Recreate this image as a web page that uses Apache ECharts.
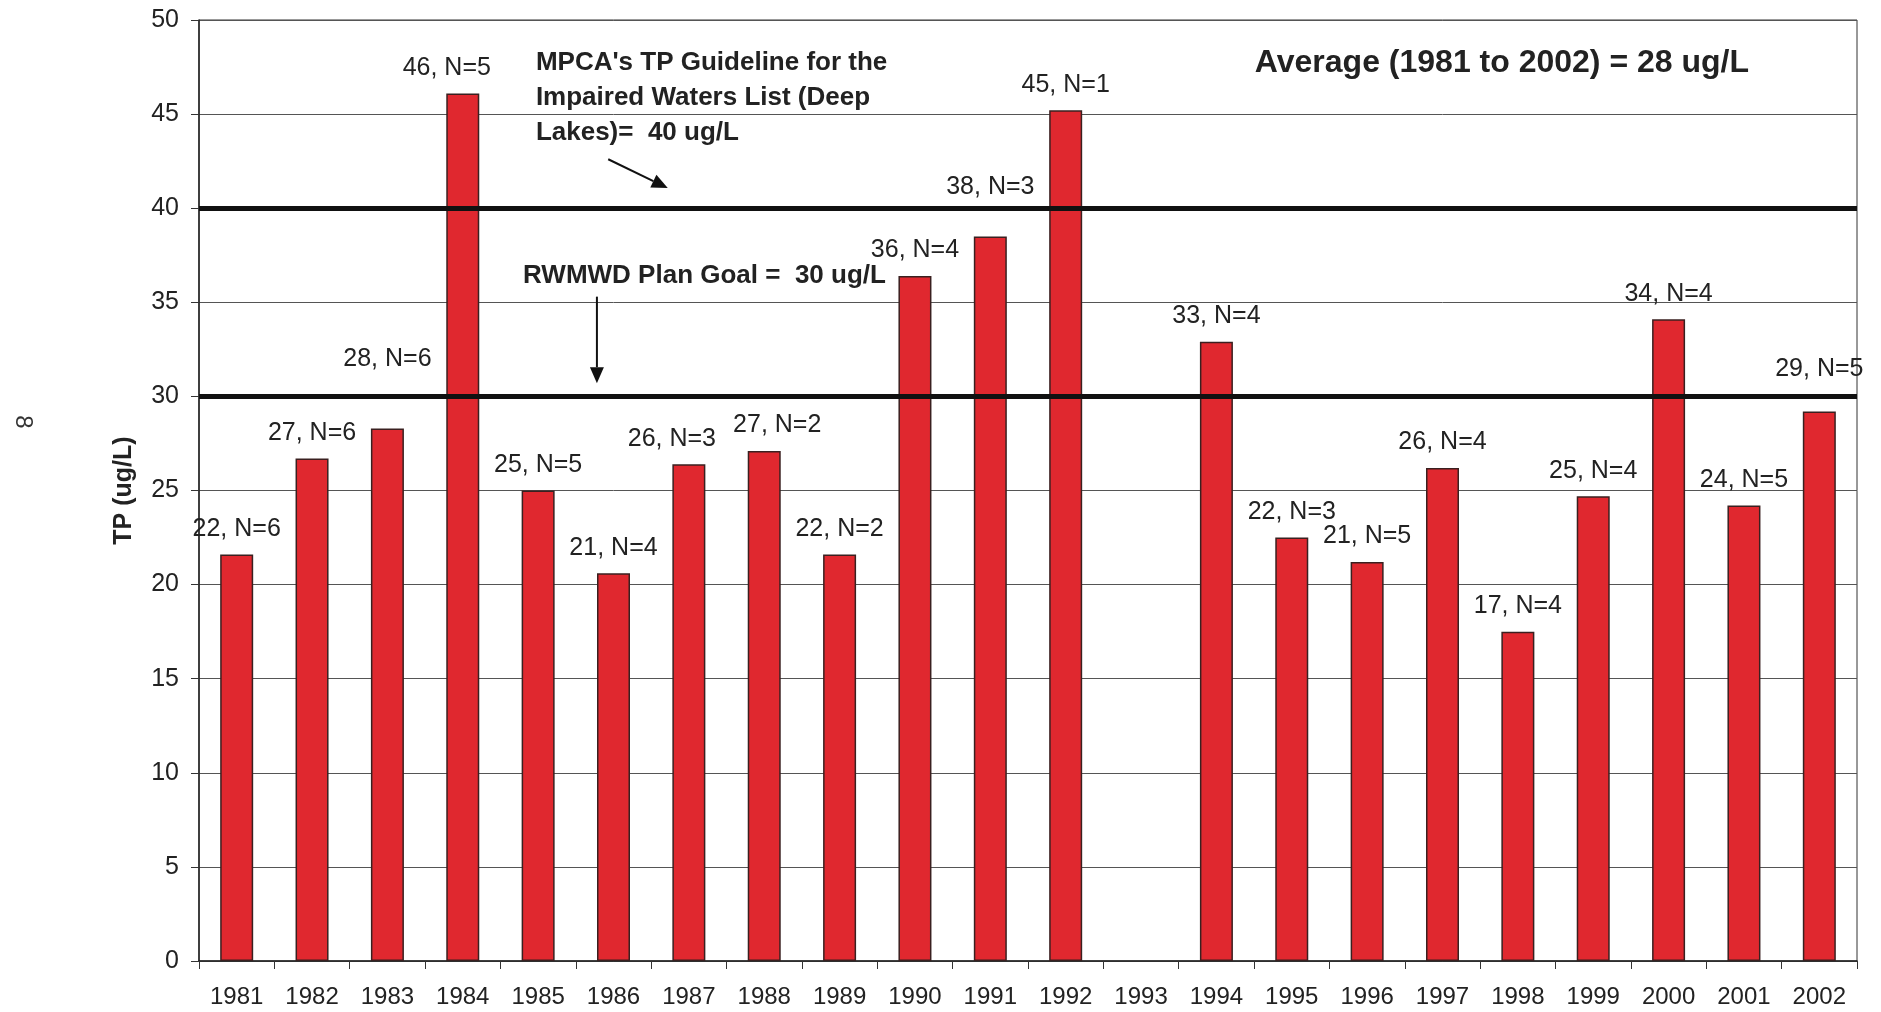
<!DOCTYPE html>
<html><head><meta charset="utf-8">
<script src="https://cdn.jsdelivr.net/npm/echarts@6/dist/echarts.min.js"></script>
<style>html,body{margin:0;padding:0;background:#fff}#c{width:1881px;height:1012px}</style>
</head><body><div id="c"></div>
<script>
// ---- data ----
const years = ['1981','1982','1983','1984','1985','1986','1987','1988','1989','1990','1991','1992','1993','1994','1995','1996','1997','1998','1999','2000','2001','2002'];
const tpValues = [21.6,26.7,28.3,46.1,25.0,20.6,26.4,27.1,21.6,36.4,38.5,45.2,null,32.9,22.5,21.2,26.2,17.5,24.7,34.1,24.2,29.2];
const tpLabelValues = [22,27,28,46,25,21,26,27,22,36,38,45,null,33,22,21,26,17,25,34,24,29];
const sampleCounts = [6,6,6,5,5,4,3,2,2,4,3,1,null,4,3,5,4,4,4,4,5,5];
const mpcaGuideline = 40;
const planGoal = 30;
const averageTP = 28;
const yMin = 0, yMax = 50, yStep = 5;

// label nudges (style only, px)
const labelNudge = {'1983':[0,-44],'1984':[-16,0],'1987':[-17,0],'1988':[13,0],'1991':[0,-24],'2002':[0,-17]};

const FONT = "'Liberation Sans',Arial,Helvetica,sans-serif";
const chart = echarts.init(document.getElementById('c'), null, {renderer:'canvas'});

const barData = tpValues.map((v,i)=>{
  if (v === null) return '-';
  const item = {value:v};
  const n = labelNudge[years[i]];
  if (n) item.label = {offset:n};
  return item;
});

chart.setOption({
  animation:false,
  backgroundColor:'#fff',
  grid:{left:199,right:24,top:20,bottom:51,show:true,borderColor:'#333',borderWidth:1,backgroundColor:'transparent'},
  xAxis:{
    type:'category', data:years, boundaryGap:true,
    axisLine:{lineStyle:{color:'#222',width:1.5}},
    axisTick:{show:true,length:8,lineStyle:{color:'#333'}},
    axisLabel:{color:'#222',fontFamily:FONT,fontSize:24,margin:24,interval:0},
    splitLine:{show:false}
  },
  yAxis:{
    type:'value', min:yMin, max:yMax, interval:yStep,
    name:'TP (ug/L)', nameLocation:'middle', nameRotate:90, nameGap:62,
    nameTextStyle:{fontFamily:FONT,fontWeight:'bold',fontSize:25,color:'#222'},
    axisLine:{show:true,lineStyle:{color:'#222',width:1.5}},
    axisTick:{show:true,length:8,lineStyle:{color:'#333'}},
    axisLabel:{color:'#222',fontFamily:FONT,fontSize:25,margin:20},
    splitLine:{show:true,lineStyle:{color:'#555',width:1}}
  },
  series:[{
    type:'bar', data:barData, barWidth:33,
    itemStyle:{color:'#e0282f',borderColor:'#3a2020',borderWidth:1.5},
    label:{show:true,position:'top',distance:13,fontFamily:FONT,fontSize:25,color:'#222',
      formatter:(p)=>{const i=p.dataIndex; return tpLabelValues[i]+', N='+sampleCounts[i];}},
    markLine:{silent:true,symbol:'none',label:{show:false},
      lineStyle:{color:'#111',width:5,type:'solid'},
      data:[{yAxis:mpcaGuideline},{yAxis:planGoal}]},
    z:2
  }]
});

function pt(idx,val){
  const a = chart.convertToPixel({gridIndex:0},[0,val]);
  const b = chart.convertToPixel({gridIndex:0},[1,val]);
  return [a[0]+(b[0]-a[0])*idx, a[1]];
}
function arrow(p0,p1){
  const dx=p1[0]-p0[0], dy=p1[1]-p0[1], L=Math.hypot(dx,dy), ux=dx/L, uy=dy/L;
  const hl=16, hw=7;
  const base=[p1[0]-ux*hl,p1[1]-uy*hl];
  return [
    {type:'line',shape:{x1:p0[0],y1:p0[1],x2:base[0],y2:base[1]},style:{stroke:'#111',lineWidth:2},z:10},
    {type:'polygon',shape:{points:[p1,[base[0]-uy*hw,base[1]+ux*hw],[base[0]+uy*hw,base[1]-ux*hw]]},style:{fill:'#111'},z:10}
  ];
}
const mpcaPos = pt(3.97,45.85), rwPos = pt(3.8,36.4), avgPos = pt(13.51,47.7);
const graphics = [
  {type:'text',x:mpcaPos[0],y:mpcaPos[1],z:10,style:{text:"MPCA's TP Guideline for the\nImpaired Waters List (Deep\nLakes)=  "+mpcaGuideline+" ug/L",
    fontFamily:FONT,fontWeight:'bold',fontSize:26,lineHeight:35,fill:'#222',textAlign:'left',textVerticalAlign:'middle'}},
  {type:'text',x:rwPos[0],y:rwPos[1],z:10,style:{text:'RWMWD Plan Goal =  '+planGoal+' ug/L',
    fontFamily:FONT,fontWeight:'bold',fontSize:26,fill:'#222',textAlign:'left',textVerticalAlign:'middle'}},
  {type:'text',x:avgPos[0],y:avgPos[1],z:10,style:{text:'Average (1981 to 2002) = '+averageTP+' ug/L',
    fontFamily:FONT,fontWeight:'bold',fontSize:32,fill:'#222',textAlign:'left',textVerticalAlign:'middle'}},
  {type:'text',x:23,y:422,rotation:-Math.PI/2,z:10,style:{text:'8',fontFamily:FONT,fontSize:24,fill:'#333',textAlign:'center',textVerticalAlign:'middle'}}
].concat(arrow(pt(4.93,42.6),pt(5.72,41.07))).concat(arrow(pt(4.78,35.3),pt(4.78,30.7)));
chart.setOption({graphic:graphics});
</script>
</body></html>
